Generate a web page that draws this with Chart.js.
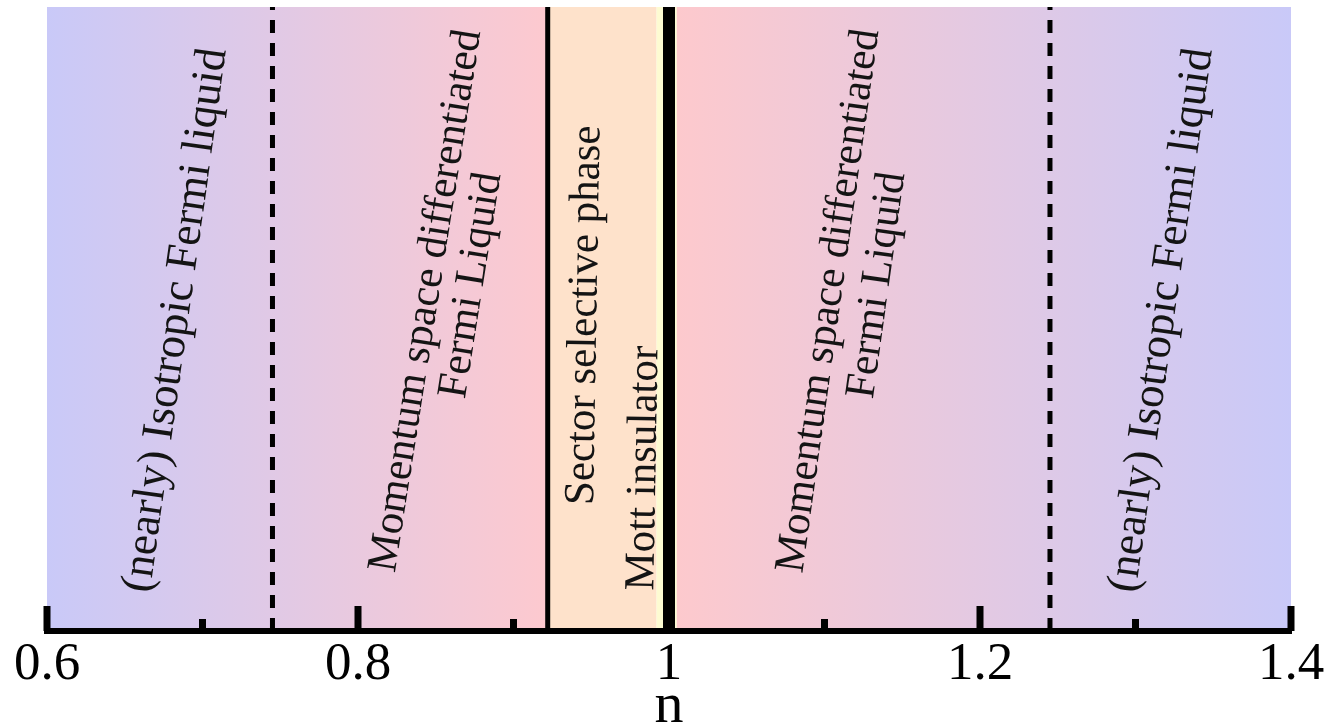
<!DOCTYPE html>
<html>
<head>
<meta charset="utf-8">
<title>Phase diagram vs n</title>
<script src="https://cdn.jsdelivr.net/npm/chart.js@4.4.0/dist/chart.umd.min.js"></script>
<style>
  html, body { margin: 0; padding: 0; background: #fff; }
  #wrap { width: 1327px; height: 724px; position: relative; }
</style>
</head>
<body>
<div id="wrap"><canvas id="phaseChart"></canvas></div>
<script>
// Filling n along the horizontal axis
const nMin = 0.6;
const nMax = 1.4;
const tickValues = [0.6, 0.7, 0.8, 0.9, 1.0, 1.1, 1.2, 1.3, 1.4];
const tickLabels = ['0.6', '', '0.8', '', '1', '', '1.2', '', '1.4'];

// Phase boundaries
const dashedBoundaries = [0.745, 1.245];
const solidBoundary = 0.922;
const mottLine = 1.0;

// Background bands between these edges, each with a start / end colour
const bandEdges = [0.6, 0.922, 0.992, 1.005, 1.4];
const bandColorsFrom = ['#c9c9f8', '#fee2cb', '#fdfbd2', '#fdc9cd'];
const bandColorsTo = ['#fdc9cf', '#fee2cb', '#fdfbd2', '#c9c9f8'];

// Region names, anchored at (n, height fraction of the panel)
const phaseNames = [
    '(nearly) Isotropic Fermi liquid',
    'Momentum space differentiated',
    'Fermi Liquid',
    'Sector selective phase',
    'Mott insulator',
    'Momentum space differentiated',
    'Fermi Liquid',
    '(nearly) Isotropic Fermi liquid'
];
const phaseNameN = [0.683, 0.844, 0.873, 0.946, 0.984, 1.103, 1.134, 1.317];
const phaseNameY = [0.498, 0.529, 0.554, 0.506, 0.261, 0.529, 0.554, 0.498];
const phaseNameAngle = [-82, -81, -81, -89, -89, -82, -82, -82];
const phaseNameSize = [45, 43, 43, 43, 43, 43, 43, 45];

const serif = "'Liberation Serif', 'DejaVu Serif', serif";

function vline(n) {
    return [{ x: n, y: 0 }, { x: n, y: 1 }];
}

// Gradient bands behind everything
const bandsPlugin = {
    id: 'bands',
    beforeDraw(chart) {
        const { ctx, chartArea, scales } = chart;
        const x = scales.x;
        ctx.save();
        for (let i = 0; i < bandEdges.length - 1; i++) {
            const x0 = x.getPixelForValue(bandEdges[i]);
            const x1 = x.getPixelForValue(bandEdges[i + 1]);
            const grad = ctx.createLinearGradient(x0, 0, x1, 0);
            grad.addColorStop(0, bandColorsFrom[i]);
            grad.addColorStop(1, bandColorsTo[i]);
            ctx.fillStyle = grad;
            ctx.fillRect(x0, chartArea.top, x1 - x0, chartArea.bottom - chartArea.top);
        }
        ctx.restore();
    }
};

// Tick marks pointing up into the panel, plus the region names
const overlayPlugin = {
    id: 'overlay',
    afterDatasetsDraw(chart) {
        const { ctx, chartArea, scales } = chart;
        const x = scales.x;
        const y = scales.y;
        ctx.save();
        ctx.fillStyle = '#000';
        x.ticks.forEach((t, i) => {
            const px = x.getPixelForValue(t.value);
            const len = tickLabels[i] ? 25 : 12;
            ctx.fillRect(px - 3.5, chartArea.bottom - len, 7, len);
        });

        ctx.fillStyle = '#141414';
        ctx.textAlign = 'center';
        ctx.textBaseline = 'middle';
        phaseNames.forEach((name, i) => {
            ctx.save();
            ctx.font = Chart.helpers.toFont({ family: serif, size: phaseNameSize[i] }).string;
            ctx.translate(x.getPixelForValue(phaseNameN[i]), y.getPixelForValue(phaseNameY[i]));
            ctx.rotate(phaseNameAngle[i] * Math.PI / 180);
            ctx.fillText(name, 0, 0);
            ctx.restore();
        });
        ctx.restore();
    }
};

const datasets = [];
dashedBoundaries.forEach(n => {
    datasets.push({
        data: vline(n),
        borderColor: '#000',
        borderWidth: 5,
        borderDash: [13, 10],
        borderCapStyle: 'butt'
    });
});
datasets.push({ data: vline(solidBoundary), borderColor: '#000', borderWidth: 5 });
datasets.push({ data: vline(mottLine), borderColor: '#000', borderWidth: 12 });

new Chart(document.getElementById('phaseChart'), {
    type: 'line',
    data: { datasets },
    options: {
        responsive: true,
        maintainAspectRatio: false,
        animation: false,
        events: [],
        layout: { padding: { left: 47, right: 36, top: 7, bottom: 0 } },
        elements: { point: { radius: 0 }, line: { tension: 0 } },
        plugins: { legend: { display: false }, tooltip: { enabled: false } },
        scales: {
            x: {
                type: 'linear',
                min: nMin,
                max: nMax,
                afterBuildTicks: s => { s.ticks = tickValues.map(v => ({ value: v })); },
                afterFit: s => { s.height = 93; },
                grid: { display: false, drawTicks: false },
                border: { display: true, width: 6, color: '#000' },
                ticks: {
                    autoSkip: false,
                    maxRotation: 0,
                    padding: 2,
                    color: '#000',
                    font: { family: serif, size: 53 },
                    callback: (v, i) => tickLabels[i]
                },
                title: {
                    display: true,
                    text: 'n',
                    color: '#000',
                    padding: 0,
                    font: { family: serif, size: 58, lineHeight: 0.6 }
                }
            },
            y: { type: 'linear', min: 0, max: 1, display: false }
        }
    },
    plugins: [bandsPlugin, overlayPlugin]
});
</script>
</body>
</html>
